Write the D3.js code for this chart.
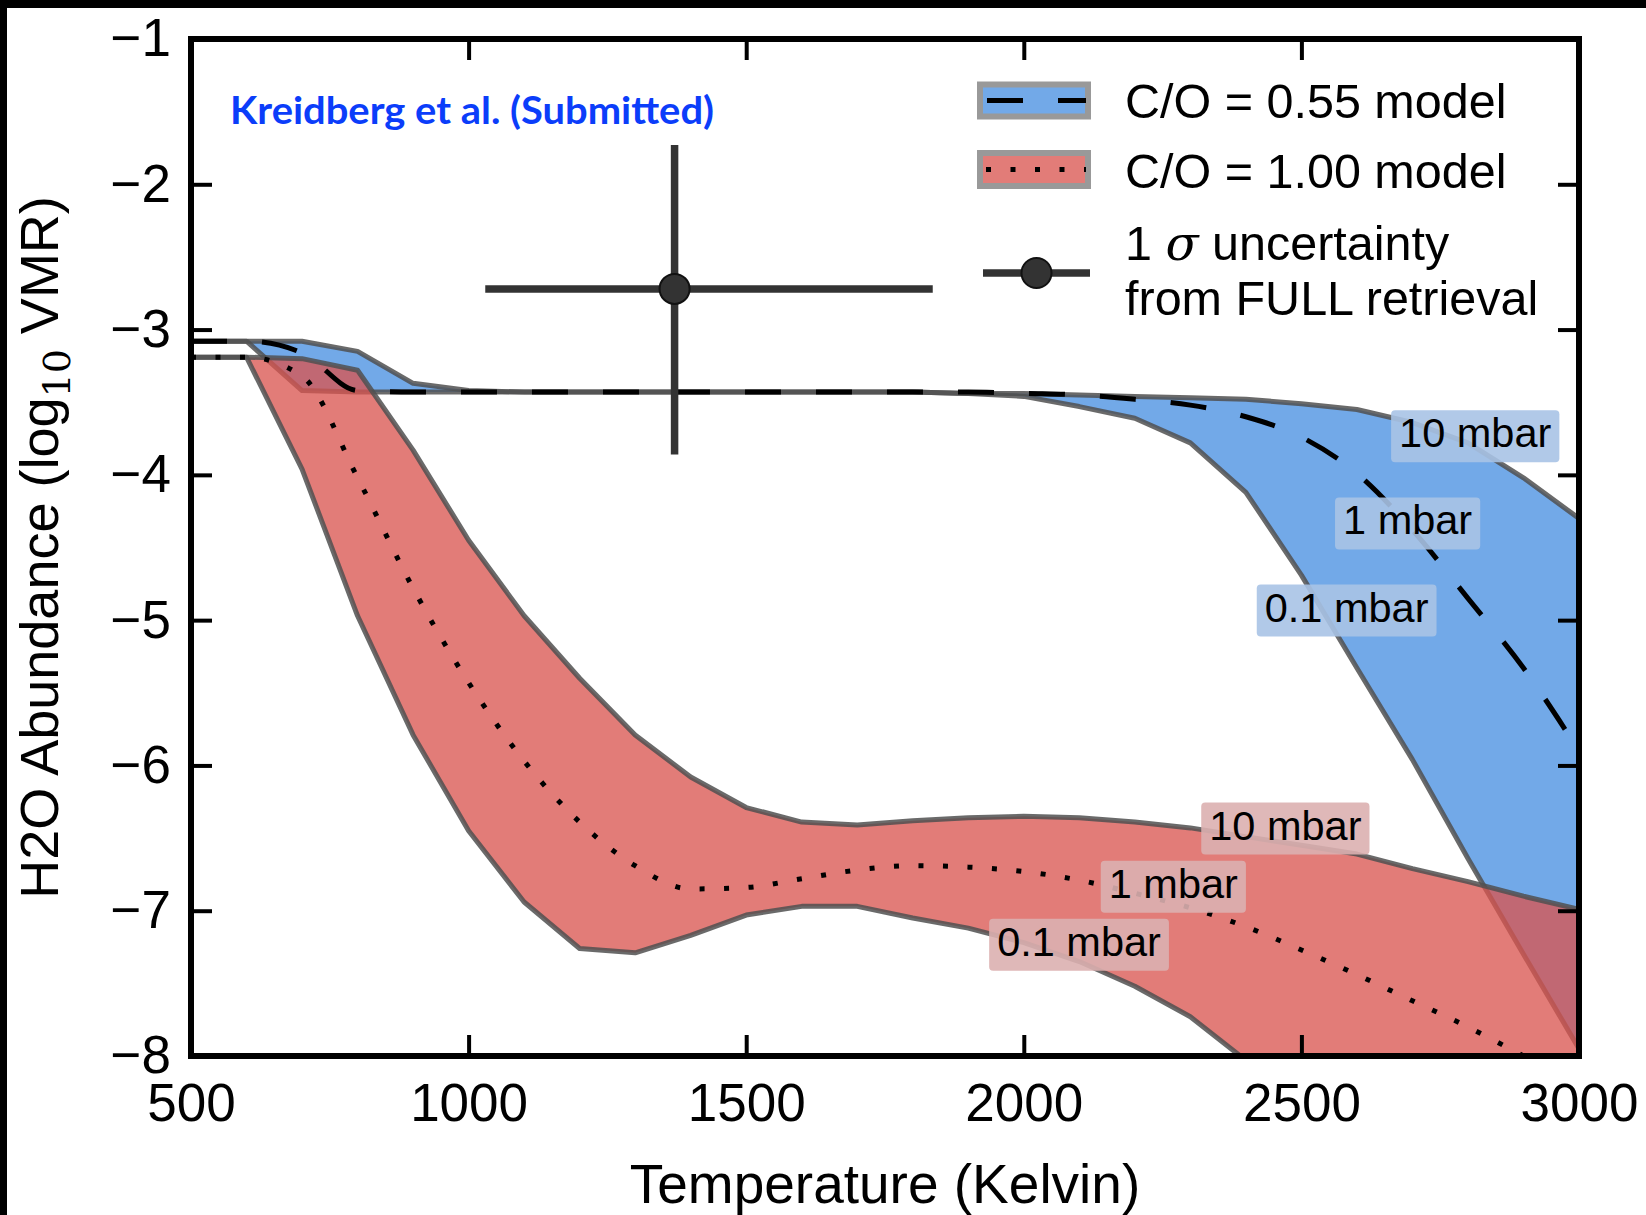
<!DOCTYPE html>
<html>
<head>
<meta charset="utf-8">
<script src="https://cdn.jsdelivr.net/npm/d3@7"></script>
<style>
  body { margin: 0; background: #fff; }
  svg { display: block; font-family: "Liberation Sans", Arial, sans-serif; }
</style>
</head>
<body>
<div id="container"></div>
<script>
// 数据：温度网格 (K)
const temps = [500, 600, 700, 800, 900, 1000, 1100, 1200, 1300, 1400, 1500, 1600, 1700,
  1800, 1900, 2000, 2100, 2200, 2300, 2400, 2500, 2600, 2700, 2800, 2900, 3000];

// C/O = 0.55 模型 (log10 VMR)
const co055High = [-3.08, -3.08, -3.08, -3.15, -3.37, -3.42, -3.43, -3.43, -3.43, -3.43, -3.43, -3.43, -3.43,
  -3.43, -3.44, -3.44, -3.45, -3.46, -3.47, -3.48, -3.51, -3.55, -3.64, -3.78, -4.02, -4.30];
const co055Mid = [-3.08, -3.08, -3.16, -3.42, -3.43, -3.43, -3.43, -3.43, -3.43, -3.43, -3.43, -3.43, -3.43,
  -3.43, -3.43, -3.44, -3.45, -3.48, -3.52, -3.60, -3.74, -3.99, -4.38, -4.85, -5.33, -5.90];
const co055Low = [-3.08, -3.08, -3.42, -3.43, -3.43, -3.43, -3.43, -3.43, -3.43, -3.43, -3.43, -3.43, -3.43,
  -3.43, -3.44, -3.46, -3.53, -3.61, -3.78, -4.12, -4.69, -5.33, -5.96, -6.64, -7.30, -7.95];

// C/O = 1.00 模型
const co100High = [-3.19, -3.19, -3.20, -3.28, -3.83, -4.45, -4.97, -5.40, -5.79, -6.08, -6.29, -6.39, -6.41,
  -6.38, -6.36, -6.35, -6.36, -6.39, -6.43, -6.49, -6.55, -6.61, -6.71, -6.80, -6.90, -6.99];
const co100Mid = [-3.19, -3.19, -3.32, -4.02, -4.78, -5.43, -5.97, -6.39, -6.69, -6.85, -6.84, -6.78, -6.72,
  -6.69, -6.70, -6.73, -6.79, -6.88, -6.98, -7.11, -7.27, -7.44, -7.62, -7.80, -8.00, -8.20];
const co100Low = [-3.19, -3.19, -3.96, -4.97, -5.79, -6.45, -6.94, -7.26, -7.29, -7.17, -7.03, -6.97, -6.97,
  -7.05, -7.12, -7.22, -7.35, -7.52, -7.73, -8.03, -8.40, -8.80, -9.20, -9.60, -10.0, -10.4];

// FULL retrieval 的 1 sigma 结果: [下限, 最佳值, 上限]
const retrievalT = [1030, 1371, 1836];
const retrievalH2O = [-3.86, -2.72, -1.73];

// 刻度
const xTicks = [500, 1000, 1500, 2000, 2500, 3000];
const yTicks = [-8, -7, -6, -5, -4, -3, -2, -1];

// 压力标签
const pressureLabels = ["10 mbar", "1 mbar", "0.1 mbar"];
const legendLabels = ["C/O = 0.55 model", "C/O = 1.00 model"];

// 布局参数
const svgWidth = 1646;
const svgHeight = 1215;
const plot = { left: 191, top: 39, right: 1579, bottom: 1056 };
const blueFill = "#72a9e8";
const redFill = "rgb(217,85,80)";
const redOpacity = 0.77;
const edgeColor = "#505050";

// 标签位置 (数据坐标: 文字左端, 基线)
const blueLabelPos = [[2676, -3.81], [2575, -4.41], [2434, -5.01]];
const redLabelPos = [[2334, -6.51], [2153, -6.91], [1952, -7.31]];

const x = d3.scaleLinear().domain([500, 3000]).range([plot.left, plot.right]);
const y = d3.scaleLinear().domain([-8, -1]).range([plot.bottom, plot.top]);

const svg = d3.select("#container").append("svg")
  .attr("width", svgWidth)
  .attr("height", svgHeight);

svg.append("defs").append("clipPath").attr("id", "plotClip")
  .append("rect")
  .attr("x", plot.left).attr("y", plot.top)
  .attr("width", plot.right - plot.left).attr("height", plot.bottom - plot.top);

// 外框黑边
svg.append("rect").attr("x", 0).attr("y", 0).attr("width", svgWidth).attr("height", 8).attr("fill", "#000");
svg.append("rect").attr("x", 0).attr("y", 0).attr("width", 7).attr("height", svgHeight).attr("fill", "#000");

const plotArea = svg.append("g").attr("clip-path", "url(#plotClip)");

function drawBand(high, low, fill, opacity) {
  const area = d3.area()
    .x((d, i) => x(temps[i]))
    .y0((d, i) => y(low[i]))
    .y1((d, i) => y(high[i]));
  plotArea.append("path")
    .attr("d", area(temps))
    .attr("fill", fill)
    .attr("fill-opacity", opacity);
  [high, low].forEach(s => {
    const line = d3.line().x((d, i) => x(temps[i])).y((d, i) => y(s[i]));
    plotArea.append("path")
      .attr("d", line(temps))
      .attr("fill", "none")
      .attr("stroke", edgeColor)
      .attr("stroke-opacity", 0.85)
      .attr("stroke-width", 5)
      .attr("stroke-linejoin", "round");
  });
}

drawBand(co055High, co055Low, blueFill, 1);
drawBand(co100High, co100Low, redFill, redOpacity);

function drawMid(series, dash) {
  const line = d3.line().curve(d3.curveMonotoneX)
    .x((d, i) => x(temps[i])).y((d, i) => y(series[i]));
  plotArea.append("path")
    .attr("d", line(temps))
    .attr("fill", "none")
    .attr("stroke", "#000")
    .attr("stroke-width", 5)
    .attr("stroke-dasharray", dash);
}
drawMid(co055Mid, "36,35");
drawMid(co100Mid, "5,19.5");

// 误差棒
const errG = svg.append("g");
errG.append("line")
  .attr("x1", x(retrievalT[0])).attr("x2", x(retrievalT[2]))
  .attr("y1", y(retrievalH2O[1])).attr("y2", y(retrievalH2O[1]));
errG.append("line")
  .attr("x1", x(retrievalT[1])).attr("x2", x(retrievalT[1]))
  .attr("y1", y(retrievalH2O[0])).attr("y2", y(retrievalH2O[2]));
errG.selectAll("line").attr("stroke", "#333").attr("stroke-width", 7.5);
errG.append("circle")
  .attr("cx", x(retrievalT[1])).attr("cy", y(retrievalH2O[1])).attr("r", 15)
  .attr("fill", "#333").attr("stroke", "#111").attr("stroke-width", 2);

// 压力标签
function drawLabels(pos, boxColor) {
  const g = svg.append("g");
  pressureLabels.forEach((t, i) => {
    const tx = x(pos[i][0]), ty = y(pos[i][1]);
    const rect = g.append("rect");
    const txt = g.append("text")
      .attr("x", tx).attr("y", ty)
      .attr("font-size", 41.5)
      .attr("fill", "#000")
      .text(t);
    const w = txt.node().getComputedTextLength();
    rect.attr("x", tx - 8).attr("y", ty - 37)
      .attr("width", w + 16).attr("height", 52).attr("rx", 4)
      .attr("fill", boxColor).attr("fill-opacity", 0.9);
  });
}
drawLabels(blueLabelPos, "#a9c3e5");
drawLabels(redLabelPos, "#dcb0b0");

// 坐标轴
function styleAxis(g) {
  g.select(".domain").remove();
  g.selectAll(".tick line").attr("stroke", "#000").attr("stroke-width", 4);
  g.selectAll(".tick text").attr("fill", "#000").attr("font-size", 53)
    .attr("font-family", "'Liberation Sans', Arial, sans-serif");
}
svg.append("g").attr("transform", `translate(0,${plot.bottom})`)
  .call(d3.axisBottom(x).tickValues(xTicks).tickFormat(d3.format("d"))
    .tickSizeInner(-21).tickSizeOuter(0).tickPadding(27))
  .call(styleAxis);
svg.append("g").attr("transform", `translate(0,${plot.top})`)
  .call(d3.axisTop(x).tickValues(xTicks).tickFormat("").tickSizeInner(-21).tickSizeOuter(0))
  .call(styleAxis);
svg.append("g").attr("transform", `translate(${plot.left},0)`)
  .call(d3.axisLeft(y).tickValues(yTicks).tickFormat(d3.format("d"))
    .tickSizeInner(-21).tickSizeOuter(0).tickPadding(20))
  .call(styleAxis);
svg.append("g").attr("transform", `translate(${plot.right},0)`)
  .call(d3.axisRight(y).tickValues(yTicks).tickFormat("").tickSizeInner(-21).tickSizeOuter(0))
  .call(styleAxis);

svg.append("rect")
  .attr("x", plot.left).attr("y", plot.top)
  .attr("width", plot.right - plot.left).attr("height", plot.bottom - plot.top)
  .attr("fill", "none").attr("stroke", "#000").attr("stroke-width", 6);

// 轴标题
svg.append("text")
  .attr("x", (plot.left + plot.right) / 2).attr("y", 1203)
  .attr("text-anchor", "middle").attr("font-size", 55)
  .text("Temperature (Kelvin)");

const yTitle = svg.append("text")
  .attr("transform", `translate(58,${(plot.top + plot.bottom) / 2}) rotate(-90)`)
  .attr("text-anchor", "middle").attr("font-size", 54);
yTitle.append("tspan").text("H2O Abundance (log");
yTitle.append("tspan").attr("font-size", 38).attr("dy", 12)
  .attr("font-family", "'DejaVu Serif', serif").text("10");
yTitle.append("tspan").attr("dy", -12).text(" VMR)");

// 作者注
svg.append("text")
  .attr("x", 230).attr("y", 124)
  .attr("font-family", "Lato, 'DejaVu Sans', sans-serif")
  .attr("font-weight", 700).attr("font-size", 38)
  .attr("textLength", 484).attr("lengthAdjust", "spacingAndGlyphs")
  .attr("fill", "#0b3dfa")
  .text("Kreidberg et al. (Submitted)");

// 图例
const legend = svg.append("g");
legend.append("rect").attr("x", 980).attr("y", 84.5).attr("width", 108).attr("height", 32)
  .attr("fill", blueFill).attr("stroke", "#999").attr("stroke-width", 6);
legend.append("line").attr("x1", 987).attr("x2", 1086).attr("y1", 100.5).attr("y2", 100.5)
  .attr("stroke", "#000").attr("stroke-width", 5).attr("stroke-dasharray", "36,35");
legend.append("rect").attr("x", 980).attr("y", 153).attr("width", 108).attr("height", 33)
  .attr("fill", "#fff").attr("stroke", "#999").attr("stroke-width", 6);
legend.append("rect").attr("x", 983).attr("y", 156).attr("width", 102).attr("height", 27)
  .attr("fill", redFill).attr("fill-opacity", redOpacity);
legend.append("line").attr("x1", 986).attr("x2", 1086).attr("y1", 169.5).attr("y2", 169.5)
  .attr("stroke", "#000").attr("stroke-width", 5).attr("stroke-dasharray", "5,19.5");
legend.append("line").attr("x1", 983).attr("x2", 1090).attr("y1", 273).attr("y2", 273)
  .attr("stroke", "#333").attr("stroke-width", 7.5);
legend.append("circle").attr("cx", 1036.5).attr("cy", 273).attr("r", 15)
  .attr("fill", "#333").attr("stroke", "#111").attr("stroke-width", 2);

legend.selectAll("text.lab").data(legendLabels).enter().append("text")
  .attr("x", 1125).attr("y", (d, i) => [117.5, 187.5][i])
  .attr("font-size", 48.5).text(d => d);
const sig = legend.append("text").attr("x", 1125).attr("y", 260).attr("font-size", 48.5);
sig.append("tspan").text("1 ");
sig.append("tspan").attr("font-family", "'DejaVu Serif', serif").attr("font-style", "italic").text("σ");
sig.append("tspan").text(" uncertainty");
legend.append("text").attr("x", 1125).attr("y", 314.6).attr("font-size", 48.5)
  .text("from FULL retrieval");
</script>
</body>
</html>
